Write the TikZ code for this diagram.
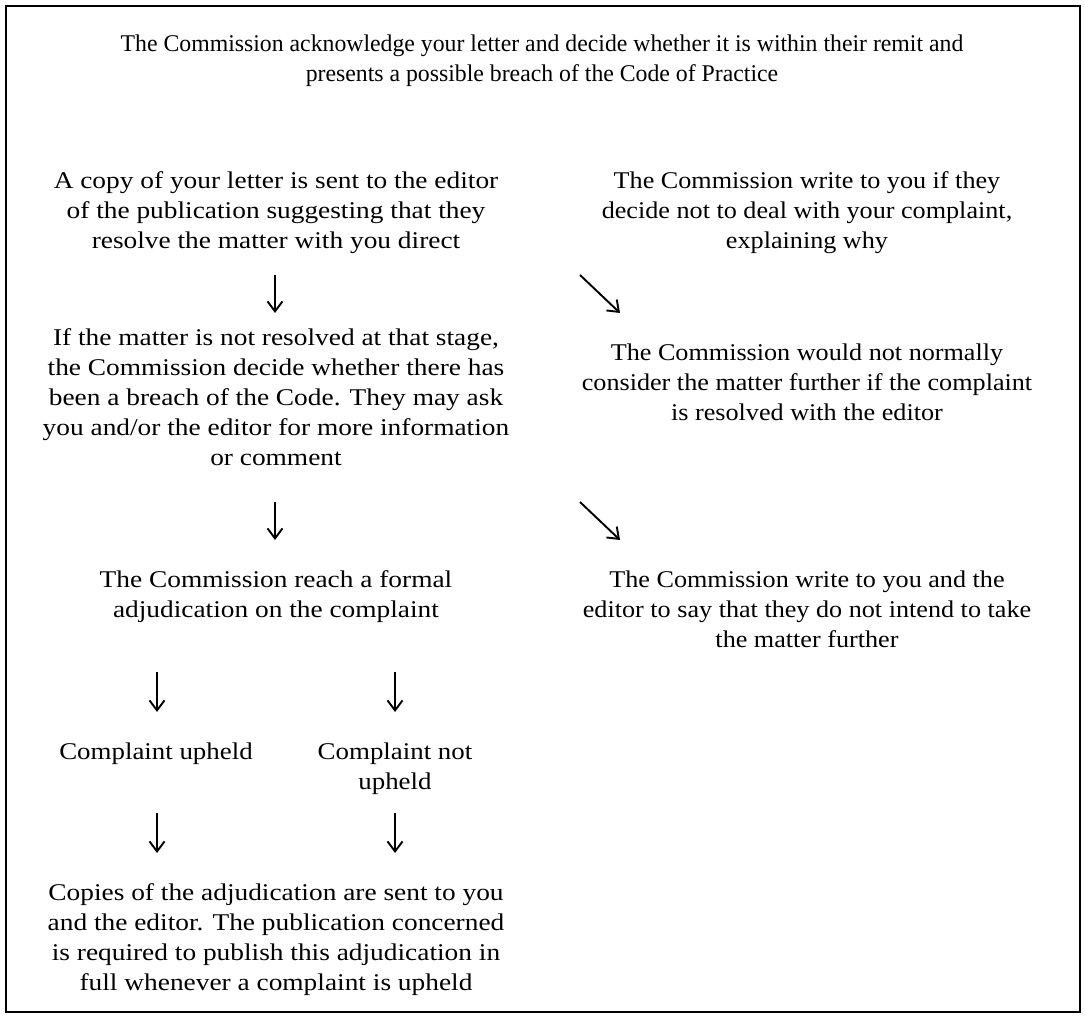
\documentclass[tikz,border=0pt]{standalone}
\usepackage{fontspec}
\setmainfont{Liberation Serif}
\usetikzlibrary{arrows.meta}
\newcommand\bx[2]{\scalebox{#1}[1]{\begin{tabular}{@{}c@{}}#2\end{tabular}}}
\begin{document}
\begin{tikzpicture}[x=1pt,y=1pt,
  txt/.style={inner sep=0pt,font=\fontsize{24}{30}\selectfont},
  arr/.style={line width=1.9pt,-{Straight Barb[length=10pt,width=15pt,line width=1.9pt]}}]
\useasboundingbox (0,0) rectangle (1085,1018);
\draw[line width=2pt] (6,6) rectangle (1080,1012);
\node[txt] (title) at (542,957) {\bx{0.99}{The Commission acknowledge your letter and decide whether it is within their remit and\\presents a possible breach of the Code of Practice}};
\node[txt] (L1) at (276,805) {\bx{1.14}{A copy of your letter is sent to the editor\\of the publication suggesting that they\\resolve the matter with you direct}};
\node[txt] (R1) at (807,805) {\bx{1.09}{The Commission write to you if they\\decide not to deal with your complaint,\\explaining why}};
\node[txt] (L2) at (276,618) {\bx{1.14}{If the matter is not resolved at that stage,\\the Commission decide whether there has\\been a breach of the Code. They may ask\\you and/or the editor for more information\\or comment}};
\node[txt] (R2) at (807,633) {\bx{1.09}{The Commission would not normally\\consider the matter further if the complaint\\is resolved with the editor}};
\node[txt] (L3) at (276,421) {\bx{1.14}{The Commission reach a formal\\adjudication on the complaint}};
\node[txt] (R3) at (807,406) {\bx{1.09}{The Commission write to you and the\\editor to say that they do not intend to take\\the matter further}};
\node[txt] (CU) at (156,264) {\bx{1.12}{Complaint upheld}};
\node[txt] (CNU) at (395,249) {\bx{1.12}{Complaint not\\upheld}};
\node[txt] (B) at (276,78) {\bx{1.14}{Copies of the adjudication are sent to you\\and the editor. The publication concerned\\is required to publish this adjudication in\\full whenever a complaint is upheld}};
\coordinate (a1s) at (275,743); \coordinate (a1e) at (275,705);
\coordinate (b1s) at (580,743); \coordinate (b1e) at (620,705);
\coordinate (a2s) at (275,516); \coordinate (a2e) at (275,478);
\coordinate (b2s) at (580,516); \coordinate (b2e) at (620,478);
\coordinate (c1s) at (157,346); \coordinate (c1e) at (157,306);
\coordinate (c2s) at (395,346); \coordinate (c2e) at (395,306);
\coordinate (d1s) at (157,205); \coordinate (d1e) at (157,165);
\coordinate (d2s) at (395,205); \coordinate (d2e) at (395,165);
\draw[arr] (a1s) -- (a1e);
\draw[arr] (b1s) -- (b1e);
\draw[arr] (a2s) -- (a2e);
\draw[arr] (b2s) -- (b2e);
\draw[arr] (c1s) -- (c1e);
\draw[arr] (c2s) -- (c2e);
\draw[arr] (d1s) -- (d1e);
\draw[arr] (d2s) -- (d2e);
\end{tikzpicture}
\end{document}
